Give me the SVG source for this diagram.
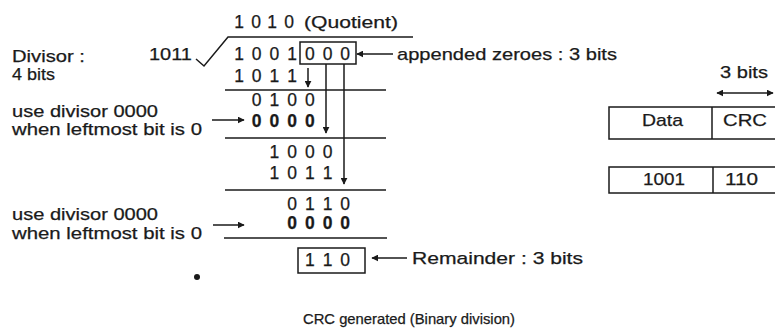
<svg xmlns="http://www.w3.org/2000/svg" width="775" height="331" viewBox="0 0 775 331">
<style>
  text{font-family:"Liberation Sans",Arial,sans-serif;fill:#1a1a1a;stroke:#1a1a1a;stroke-width:0.25;}
  .t{font-size:17px;}
  .d{font-size:17.5px;text-anchor:middle;}
  .b{font-weight:bold;}
  .s{font-size:14.5px;}
  .ln{stroke:#1a1a1a;stroke-width:1.5;fill:none;}
  .ar{stroke:#1a1a1a;stroke-width:1.5;fill:none;marker-end:url(#ah);}
</style>
<defs>
  <marker id="ah" viewBox="0 0 10 10" refX="9" refY="5" markerWidth="7" markerHeight="7" markerUnits="userSpaceOnUse" orient="auto-start-reverse">
    <path d="M0,0 L10,5 L0,10 Z" fill="#1a1a1a"/>
  </marker>
</defs>
<rect width="775" height="331" fill="#fff"/>

<g id="division">
  <text class="d" x="239 256 272 289" y="28">1010</text>
  <text class="t" x="304" y="28" textLength="94" lengthAdjust="spacingAndGlyphs">(Quotient)</text>
  <polyline class="ln" points="196,59 204,66 228,37 413,37"/>
  <text class="t" x="149" y="60" textLength="43" lengthAdjust="spacingAndGlyphs">1011</text>
  <text class="d" x="239 256.7 274.4 292.1 309.8 327.5 345.2" y="60">1001000</text>
  <rect class="ln" x="300" y="42" width="56" height="22"/>
  <text class="d" x="239 256.7 274.4 292.1" y="82">1011</text>
  <line class="ln" x1="225" y1="90" x2="386" y2="90"/>
  <text class="d" x="256.7 274.4 292.1 309.8" y="106">0100</text>
  <text class="d b" x="256.7 274.4 292.1 309.8" y="127">0000</text>
  <line class="ln" x1="225" y1="138" x2="386" y2="138"/>
  <text class="d" x="274.4 292.1 309.8 327.5" y="158">1000</text>
  <text class="d" x="274.4 292.1 309.8 327.5" y="179">1011</text>
  <line class="ln" x1="225" y1="190" x2="386" y2="190"/>
  <text class="d" x="292.1 309.8 327.5 345.2" y="210">0110</text>
  <text class="d b" x="292.1 309.8 327.5 345.2" y="229">0000</text>
  <line class="ln" x1="224" y1="238" x2="387" y2="238"/>
  <rect class="ln" x="298" y="248" width="67" height="25"/>
  <text class="d" x="309.8 327.5 345.2" y="266">110</text>
  <circle cx="197" cy="277" r="3" fill="#1a1a1a"/>
</g>

<g id="labels">
  <text class="t" x="12" y="62" textLength="73" lengthAdjust="spacingAndGlyphs">Divisor :</text>
  <text class="t" x="12" y="80" textLength="43" lengthAdjust="spacingAndGlyphs">4 bits</text>
  <text class="t" x="12" y="117" textLength="146" lengthAdjust="spacingAndGlyphs">use divisor 0000</text>
  <text class="t" x="12" y="135" textLength="190" lengthAdjust="spacingAndGlyphs">when leftmost bit is 0</text>
  <text class="t" x="12" y="220" textLength="146" lengthAdjust="spacingAndGlyphs">use divisor 0000</text>
  <text class="t" x="12" y="239" textLength="190" lengthAdjust="spacingAndGlyphs">when leftmost bit is 0</text>
  <text class="t" x="397" y="60" textLength="220" lengthAdjust="spacingAndGlyphs">appended zeroes : 3 bits</text>
  <text class="t" x="412" y="264" textLength="171" lengthAdjust="spacingAndGlyphs">Remainder : 3 bits</text>
  <text class="s" x="303" y="324" textLength="212" lengthAdjust="spacingAndGlyphs">CRC generated (Binary division)</text>
</g>

<g id="frame">
  <text class="t" x="720" y="78" textLength="48" lengthAdjust="spacingAndGlyphs">3 bits</text>
  <rect class="ln" x="609" y="107" width="180" height="32"/>
  <line class="ln" x1="712" y1="107" x2="712" y2="139"/>
  <text class="t" x="642" y="126" textLength="41" lengthAdjust="spacingAndGlyphs">Data</text>
  <text class="t" x="723" y="126" textLength="44" lengthAdjust="spacingAndGlyphs">CRC</text>
  <rect class="ln" x="609" y="167" width="180" height="26"/>
  <line class="ln" x1="713" y1="167" x2="713" y2="193"/>
  <text class="t" x="643" y="185" textLength="42" lengthAdjust="spacingAndGlyphs">1001</text>
  <text class="t" x="725" y="185" textLength="33" lengthAdjust="spacingAndGlyphs">110</text>
</g>

<g id="connectors">
  <line class="ar" x1="308" y1="68" x2="308" y2="87"/>
  <line class="ar" x1="326" y1="64" x2="326" y2="133"/>
  <line class="ar" x1="344" y1="64" x2="344" y2="184"/>
  <line class="ar" x1="212" y1="120" x2="244" y2="120"/>
  <line class="ar" x1="213" y1="225" x2="244" y2="225"/>
  <line class="ar" x1="393" y1="54" x2="357" y2="54"/>
  <line class="ar" x1="407" y1="258" x2="372" y2="258"/>
  <line class="ar" x1="744" y1="93" x2="717" y2="93"/>
  <line class="ar" x1="744" y1="93" x2="773" y2="93"/>
</g>
</svg>
